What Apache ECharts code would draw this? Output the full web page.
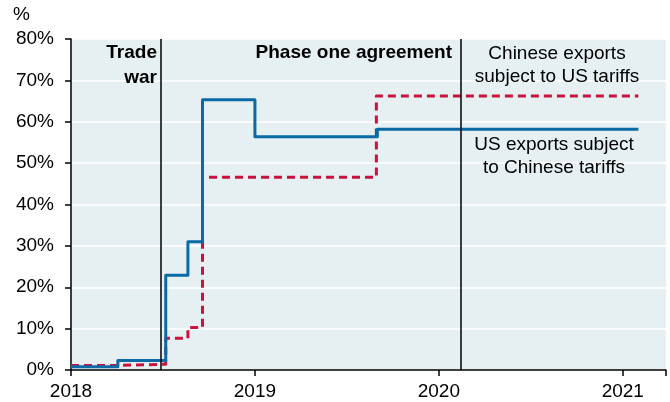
<!DOCTYPE html>
<html><head><meta charset="utf-8">
<script src="https://cdn.jsdelivr.net/npm/echarts@6/dist/echarts.min.js"></script>
<style>html,body{margin:0;padding:0;background:#fff}#c{width:670px;height:402px}</style>
</head><body><div id="c"></div>
<script>
// Step dates (start of each level) and levels, in %
const usDates = ['2018-01-01','2018-04-04','2018-07-08','2018-08-21','2018-09-19','2019-01-01','2019-09-01','2021-02-01'];
const usValues = [0.8, 2.3, 22.9, 31.0, 65.3, 56.4, 58.2, 58.2];
const cnDates = ['2018-01-01','2018-04-04','2018-07-08','2018-08-21','2018-09-19','2019-08-30','2021-02-01'];
const cnValues = [1.1, 1.4, 7.7, 10.3, 46.6, 66.2, 66.2];
const eventDates = ['2018-06-29','2020-02-13'];
const yTicks = [0,10,20,30,40,50,60,70,80];
const xTicks = [2018,2019,2020,2021];

function decYear(s){
  const d = new Date(s + 'T00:00:00Z');
  const y = d.getUTCFullYear();
  const a = Date.UTC(y,0,1), b = Date.UTC(y+1,0,1);
  return y + (d.getTime()-a)/(b-a);
}
const usData = usDates.map((d,i)=>[decYear(d), usValues[i]]);
const cnData = cnDates.map((d,i)=>[decYear(d), cnValues[i]]);

const font = '"Liberation Sans", Arial, sans-serif';
const chart = echarts.init(document.getElementById('c'), null, {renderer:'canvas'});
chart.setOption({
  animation:false,
  grid:{left:71, right:4, top:39, bottom:32, show:true, backgroundColor:'#e6eff2', borderWidth:0},
  xAxis:{type:'value', min:xTicks[0], max:2021.235, interval:1,
    axisLine:{show:true, lineStyle:{color:'#000', width:1.5}},
    axisTick:{show:true, length:6, lineStyle:{color:'#000', width:1.5}},
    axisLabel:{color:'#000', fontSize:19, fontFamily:font, margin:12,
      formatter:v=> xTicks.indexOf(Math.round(v))>=0 && Math.abs(v-Math.round(v))<1e-6 ? String(Math.round(v)) : ''},
    splitLine:{show:false}},
  yAxis:{type:'value', min:yTicks[0], max:yTicks[yTicks.length-1], interval:10,
    axisLine:{show:true, lineStyle:{color:'#000', width:1.5}},
    axisTick:{show:true, length:6, lineStyle:{color:'#000', width:1.5}},
    axisLabel:{color:'#000', fontSize:19, fontFamily:font, margin:17, formatter:'{value}%'},
    splitLine:{show:true, lineStyle:{color:'#fff', width:1.5}}},
  series:[
    {type:'line', name:'Chinese exports subject to US tariffs', data:cnData, step:'end', symbol:'none',
      lineStyle:{color:'#c8143c', width:3, type:[8,5], join:'round'}, z:3},
    {type:'line', name:'US exports subject to Chinese tariffs', data:usData, step:'end', symbol:'none',
      lineStyle:{color:'#0a6aa6', width:3, join:'round'}, z:4},
    {type:'line', name:'events', data:[], z:5,
      markLine:{silent:true, symbol:'none', label:{show:false}, z:5,
        lineStyle:{color:'#000', width:1.5, type:'solid'},
        data: eventDates.map(d=>({xAxis:decYear(d)}))}}
  ],
  graphic:[
    {type:'text', x:13, y:3, z:100, style:{text:'%', font:'19px '+font, fill:'#000', lineHeight:24}},
    {type:'text', x:157, y:40.5, z:100, style:{text:'Trade\nwar', font:'bold 19px '+font, fill:'#000', align:'right', lineHeight:25}},
    {type:'text', x:452, y:41.5, z:100, style:{text:'Phase one agreement', font:'bold 19px '+font, fill:'#000', align:'right', lineHeight:23}},
    {type:'text', x:557, y:42.5, z:100, style:{text:'Chinese exports\nsubject to US tariffs', font:'19px '+font, fill:'#000', align:'center', lineHeight:23}},
    {type:'text', x:554, y:133.5, z:100, style:{text:'US exports subject\nto Chinese tariffs', font:'19px '+font, fill:'#000', align:'center', lineHeight:23}}
  ]
});
</script></body></html>
